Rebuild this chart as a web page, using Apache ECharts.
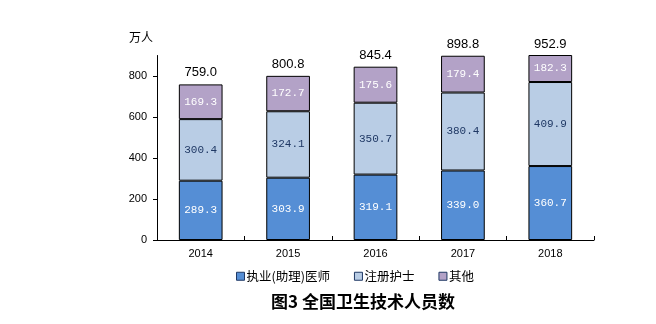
<!DOCTYPE html>
<html><head><meta charset="utf-8">
<script src="https://cdn.jsdelivr.net/npm/echarts@6/dist/echarts.min.js"></script>
<style>html,body{margin:0;padding:0;background:#fff}#c{width:656px;height:324px}</style>
</head><body><div id="c"></div>
<script>
const categories = ['2014','2015','2016','2017','2018'];
const doctors = [289.3, 303.9, 319.1, 339.0, 360.7];
const nurses = [300.4, 324.1, 350.7, 380.4, 409.9];
const others = [169.3, 172.7, 175.6, 179.4, 182.3];
const totals = [759.0, 800.8, 845.4, 898.8, 952.9];
const yTicks = [0, 200, 400, 600, 800];

const chart = echarts.init(document.getElementById('c'));
const inLabel = (color) => ({
  show: true, position: 'inside', color: color,
  fontFamily: 'Liberation Mono, monospace', fontSize: 11,
  formatter: p => p.value.toFixed(1)
});
chart.setOption({
  animation: false,
  title: {
    text: '图3 全国卫生技术人员数', left: 358, textAlign: 'center', top: 288,
    textStyle: { fontFamily: 'Noto Sans CJK SC', fontWeight: 'bold', fontSize: 17, color: '#000' }
  },
  legend: {
    left: 231, top: 265, itemWidth: 8, itemHeight: 8, itemGap: 24,
    icon: 'rect',
    textStyle: { fontFamily: 'Noto Sans CJK SC', fontSize: 12.5, color: '#000', padding: [0,0,0,-3] },
    data: [
      { name: '执业(助理)医师', itemStyle: { borderColor: '#1F3864', borderWidth: 1 } },
      { name: '注册护士', itemStyle: { borderColor: '#1F3864', borderWidth: 1 } },
      { name: '其他', itemStyle: { borderColor: '#1F3864', borderWidth: 1 } }
    ]
  },
  grid: { left: 157, right: 62, top: 55.5, bottom: 84, containLabel: false },
  xAxis: {
    type: 'category', data: categories,
    axisLine: { lineStyle: { color: '#000', width: 1 } },
    axisTick: { show: true, inside: true, length: 4, lineStyle: { color: '#000' } },
    axisLabel: { color: '#000', fontFamily: 'Liberation Sans, Arial', fontSize: 11, margin: 8 }
  },
  yAxis: {
    type: 'value', min: 0, max: 900, interval: 100,
    name: '万人', nameLocation: 'end', nameGap: 12,
    nameTextStyle: { fontFamily: 'Noto Sans CJK SC', fontSize: 12, color: '#000', align: 'right', padding: [0, 4, 0, 0] },
    axisLine: { show: true, lineStyle: { color: '#000', width: 1 } },
    axisTick: { show: true, length: 4, lineStyle: { color: '#000' }, customValues: yTicks },
    axisLabel: { color: '#000', fontFamily: 'Liberation Sans, Arial', fontSize: 11, margin: 10, customValues: yTicks },
    splitLine: { show: false }
  },
  series: [
    { name: '执业(助理)医师', type: 'bar', stack: 's', barWidth: '50%', barGap: '-100%', data: doctors,
      itemStyle: { color: '#558ED5', borderColor: '#000', borderWidth: 1 }, label: inLabel('#fff') },
    { name: '注册护士', type: 'bar', stack: 's', data: nurses,
      itemStyle: { color: '#B9CDE5', borderColor: '#000', borderWidth: 1 }, label: inLabel('#1F3864') },
    { name: '其他', type: 'bar', stack: 's', data: others,
      itemStyle: { color: '#B3A2C7', borderColor: '#000', borderWidth: 1 },
      label: inLabel('#fff')
    },
    { name: 'total', type: 'bar', barWidth: '50%', barGap: '-100%', data: totals, z: 1,
      itemStyle: { color: 'rgba(0,0,0,0)', borderWidth: 0 },
      label: { show: true, position: 'top', distance: 5, color: '#000',
        fontFamily: 'Liberation Sans, Arial', fontSize: 13,
        formatter: p => p.value.toFixed(1) },
      legendHoverLink: false, silent: true
    }
  ]
});
</script></body></html>
